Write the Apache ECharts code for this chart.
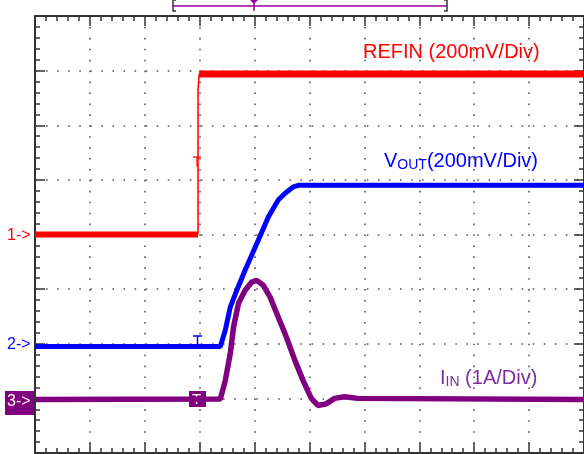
<!DOCTYPE html>
<html>
<head>
<meta charset="utf-8">
<script src="https://cdn.jsdelivr.net/npm/echarts@6/dist/echarts.min.js"></script>
<style>
html, body { margin: 0; padding: 0; background: #fff; }
#main { width: 584px; height: 454px; }
</style>
</head>
<body>
<div id="main"></div>
<script>
// scope screen: 10 horizontal divisions, 8 vertical divisions
var refinLow = [[0, 4.0], [2.97, 4.0]];
var refinEdge = [[2.97, 4.0], [2.97, 6.64], [2.99, 6.64], [2.99, 6.94]];
var refinHigh = [[2.99, 6.94], [10, 6.94]];
var vout = [
    [0, 1.95], [3.376, 1.95], [3.467, 2.25], [3.557, 2.67], [3.676, 2.98],
    [3.828, 3.35], [4.069, 3.9], [4.25, 4.32], [4.43, 4.63], [4.551, 4.75],
    [4.702, 4.87], [4.8, 4.9], [10, 4.9]
];
var iin = [
    [0, 0.98], [3.376, 0.99], [3.467, 1.33], [3.557, 1.82], [3.617, 2.31],
    [3.707, 2.74], [3.828, 2.98], [3.948, 3.13], [4.038, 3.16], [4.159, 3.07],
    [4.28, 2.86], [4.43, 2.49], [4.58, 2.12], [4.732, 1.7], [4.882, 1.33],
    [5.033, 1.0], [5.154, 0.87], [5.304, 0.9], [5.456, 1.0], [5.636, 1.03],
    [5.877, 1.0], [10, 0.98]
];

var FONT = '"Liberation Sans", Arial, sans-serif';
var axisColor = '#333';

function scopeAxis(pos, max, dash) {
    return {
        type: 'value',
        position: pos,
        min: 0,
        max: max,
        interval: 1,
        axisLine: { show: true, onZero: false, lineStyle: { color: axisColor, width: 2 } },
        axisTick: { show: true, inside: true, length: 10, lineStyle: { color: axisColor, width: 1.5 } },
        minorTick: { show: true, splitNumber: 5, length: 5, lineStyle: { color: axisColor, width: 1.5 } },
        axisLabel: { show: false },
        splitLine: dash ? { show: true, lineStyle: { color: '#555', width: 1.6, type: dash } } : { show: false }
    };
}

function subLabel(main, sub, rest, color) {
    return {
        text: '{a|' + main + '}{b|' + sub + '}{a|' + rest + '}',
        fill: color,
        rich: {
            a: { fontSize: 20, fontFamily: FONT, fill: color },
            b: { fontSize: 14, fontFamily: FONT, fill: color, padding: [9, 0, 0, 0] }
        }
    };
}

var myChart = echarts.init(document.getElementById('main'));
var option = {
    animation: false,
    backgroundColor: '#fff',
    grid: { left: 35, top: 16, width: 553, height: 437 },
    xAxis: [
        scopeAxis('bottom', 10, [1.6, 9.325]),
        scopeAxis('top', 10, null)
    ],
    yAxis: [
        scopeAxis('left', 8, [1.6, 9.46]),
        scopeAxis('right', 8, null)
    ],
    series: [
        { type: 'line', data: refinLow, showSymbol: false, lineStyle: { color: '#ff0000', width: 6 } },
        { type: 'line', data: refinEdge, showSymbol: false, lineStyle: { color: '#ff0000', width: 1.5 } },
        { type: 'line', data: refinHigh, showSymbol: false, lineStyle: { color: '#ff0000', width: 7 } },
        { type: 'line', data: vout, showSymbol: false, lineStyle: { color: '#0000ff', width: 5 } },
        { type: 'line', data: iin, showSymbol: false, lineStyle: { color: '#800080', width: 5.5 } }
    ],
    graphic: [
        // record bracket on top
        { type: 'polyline', shape: { points: [[176, 0], [173, 0], [173, 11], [176, 11]] }, style: { stroke: '#333', lineWidth: 1.5, fill: null } },
        { type: 'line', shape: { x1: 173, y1: 6, x2: 447, y2: 6 }, style: { stroke: '#990099', lineWidth: 1.5 } },
        { type: 'polyline', shape: { points: [[444, 0], [447, 0], [447, 11], [444, 11]] }, style: { stroke: '#333', lineWidth: 1.5, fill: null } },
        { type: 'line', shape: { x1: 254, y1: 0, x2: 254, y2: 11 }, style: { stroke: '#990099', lineWidth: 1.5 } },
        { type: 'polygon', shape: { points: [[250, 0], [258, 0], [254, 4]] }, style: { fill: '#990099' } },
        // channel markers
        { type: 'text', left: 7, top: 228, style: { text: '1->', fill: '#ff0000', font: '16px ' + FONT } },
        { type: 'text', left: 7, top: 337, style: { text: '2->', fill: '#0000ff', font: '16px ' + FONT } },
        { type: 'rect', shape: { x: 5, y: 391, width: 30, height: 24 }, style: { fill: '#800080' } },
        { type: 'text', left: 7, top: 394, style: { text: '3->', fill: '#fff', font: '16px ' + FONT } },
        // trigger marks
        { type: 'line', shape: { x1: 193, y1: 157, x2: 201, y2: 157 }, style: { stroke: '#ff0000', lineWidth: 1.2 } },
        { type: 'line', shape: { x1: 197, y1: 157, x2: 197, y2: 167 }, style: { stroke: '#ff0000', lineWidth: 1.2 } },
        { type: 'line', shape: { x1: 193, y1: 336, x2: 202, y2: 336 }, style: { stroke: '#0000ff', lineWidth: 1.5 } },
        { type: 'line', shape: { x1: 197.5, y1: 336, x2: 197.5, y2: 345 }, style: { stroke: '#0000ff', lineWidth: 1.5 } },
        { type: 'rect', shape: { x: 189, y: 391, width: 17, height: 16 }, style: { fill: '#800080' } },
        { type: 'text', left: 192, top: 392, style: { text: 'T', fill: '#fff', font: '15px ' + FONT } },
        // channel captions
        { type: 'text', left: 363, top: 42, style: { text: 'REFIN (200mV/Div)', fill: '#ff0000', font: '20px ' + FONT } },
        { type: 'text', left: 384, top: 151, style: subLabel('V', 'OUT', '(200mV/Div)', '#0000ff') },
        { type: 'text', left: 440, top: 368, style: subLabel('I', 'IN', ' (1A/Div)', '#7d2d9e') }
    ]
};
myChart.setOption(option);
</script>
</body>
</html>
